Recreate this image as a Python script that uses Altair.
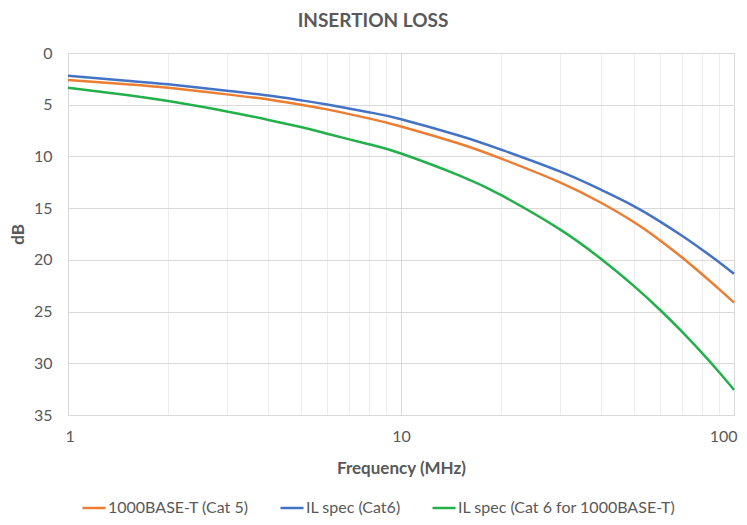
import altair as alt
import pandas as pd

# Frequencies (MHz) sampled along the curves
freqs = [1, 1.5, 2, 3, 4, 5, 6, 8, 10, 15, 20, 30, 40, 50, 60, 70, 80, 90, 100]

# Insertion loss values (dB)
cat5_1000baset = [2.6, 3.03, 3.37, 4.0, 4.5, 5.0, 5.45, 6.32, 7.1, 8.77, 10.21, 12.5, 14.5, 16.34, 18.12, 19.8, 21.37, 22.8, 24.13]
il_cat6 = [2.2, 2.68, 3.03, 3.65, 4.12, 4.57, 4.98, 5.72, 6.4, 8.0, 9.35, 11.45, 13.25, 14.8, 16.3, 17.7, 19.0, 20.2, 21.35]
il_cat6_1000baset = [3.35, 4.05, 4.65, 5.65, 6.47, 7.16, 7.8, 8.82, 9.72, 11.85, 13.75, 17.05, 19.95, 22.52, 24.85, 26.99, 28.97, 30.82, 32.57]

series_names = ["1000BASE-T (Cat 5)", "IL spec (Cat6)", "IL spec (Cat 6 for 1000BASE-T)"]
series_colors = ["#ED7D31", "#4472C4", "#22B04B"]

x_grid_values = [1, 2, 3, 4, 5, 6, 7, 8, 9, 10, 20, 30, 40, 50, 60, 70, 80, 90, 100]
y_tick_values = [0, 5, 10, 15, 20, 25, 30, 35]

rows = []
for name, vals in zip(series_names, [cat5_1000baset, il_cat6, il_cat6_1000baset]):
    for f, v in zip(freqs, vals):
        rows.append({"Frequency": f, "dB": v, "Series": name})
df = pd.DataFrame(rows)

FONT = "Lato"
TXT = "#595959"

chart = alt.Chart(df).mark_line(strokeWidth=2.5, interpolate="natural").encode(
    x=alt.X(
        "Frequency:Q",
        scale=alt.Scale(type="log", domain=[1, 100], nice=False),
        axis=alt.Axis(
            values=x_grid_values,
            labelExpr="(datum.value == 1 || datum.value == 10 || datum.value == 100) ? format(datum.value, 'd') : ''",
            labelOverlap=False,
            labelFlush=True,
            labelFlushOffset=3,
            labelBound=False,
            ticks=False,
            domain=False,
            labelPadding=13,
            labelFontSize=16,
            labelColor=TXT,
            labelFont=FONT,
            gridColor=alt.condition(
                "datum.value == 1 || datum.value == 10 || datum.value == 100",
                alt.value("#D9D9D9"),
                alt.value("#EDEDED"),
            ),
            title="Frequency (MHz)",
            titleFont=FONT,
            titleFontSize=17,
            titleFontWeight="bold",
            titleColor=TXT,
            titleY=45,
            titleBaseline="top",
        ),
    ),
    y=alt.Y(
        "dB:Q",
        scale=alt.Scale(domain=[0, 35], reverse=True, nice=False),
        axis=alt.Axis(
            values=y_tick_values,
            ticks=False,
            domain=False,
            labelPadding=16,
            labelFontSize=16,
            labelColor=TXT,
            labelFont=FONT,
            gridColor="#D9D9D9",
            title="dB",
            titleFont=FONT,
            titleFontSize=17,
            titleFontWeight="bold",
            titleColor=TXT,
            titleX=-41,
            titleY=181,
        ),
    ),
    color=alt.Color(
        "Series:N",
        scale=alt.Scale(domain=series_names, range=series_colors),
        legend=alt.Legend(
            title=None,
            orient="none",
            direction="horizontal",
            legendX=13,
            legendY=442,
            padding=0,
            symbolType="stroke",
            symbolSize=529,
            symbolStrokeWidth=2.5,
            labelFont=FONT,
            labelFontSize=16,
            labelColor=TXT,
            columnPadding=26,
            labelOffset=1,
            labelLimit=400,
        ),
    ),
).properties(
    width=666,
    height=362,
    autosize=alt.AutoSizeParams(type="none"),
    padding={"left": 60, "top": 45, "right": 5, "bottom": 102},
    title=alt.TitleParams(
        "INSERTION LOSS",
        font=FONT,
        fontSize=19,
        fontWeight="bold",
        color=TXT,
        anchor="middle",
        dx=-28,
        offset=14,
    ),
).configure_view(stroke=None).configure(background="white")

chart.save("out.html", embed_options={"renderer": "svg", "actions": False})
